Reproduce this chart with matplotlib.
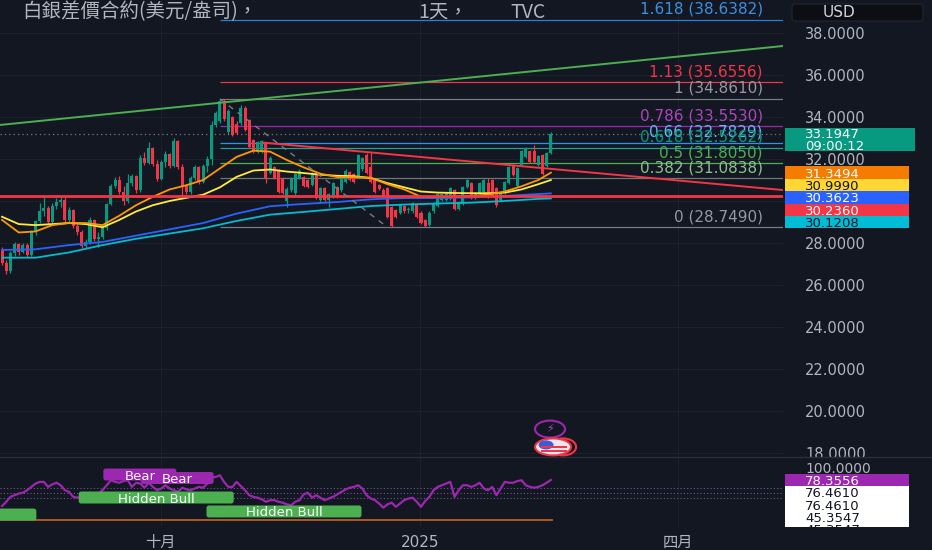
import numpy as np
import matplotlib
matplotlib.use('Agg')
import matplotlib.pyplot as plt
from matplotlib.patches import Rectangle, FancyBboxPatch, Ellipse
from matplotlib.lines import Line2D
from matplotlib.transforms import IdentityTransform, blended_transform_factory

plt.rcParams['font.family'] = ['DejaVu Sans', 'Noto Sans CJK TC']

# ---- daily candles ----
opens = [27.65, 27.05, 26.65, 27.50, 27.95, 27.55, 27.90, 27.45, 28.50, 29.05,
         29.50, 29.65, 29.00, 29.75, 29.95, 30.05, 29.10, 29.55, 28.80, 28.50,
         27.85, 28.05, 29.10, 28.20, 28.30, 28.70, 29.85, 30.70, 31.00, 30.45,
         30.00, 30.85, 31.20, 30.50, 32.05, 31.80, 32.50, 31.75, 31.05, 31.85,
         32.25, 31.65, 32.85, 31.60, 30.70, 30.45, 31.10, 31.60, 30.90, 31.65,
         32.00, 33.60, 33.80, 34.75, 33.30, 34.00, 33.65, 33.70, 34.45, 33.85,
         32.90, 32.35, 32.40, 32.75, 31.35, 31.60, 31.45, 31.10, 30.00, 30.50,
         30.40, 31.10, 31.15, 31.00, 30.75, 31.35, 30.05, 30.60, 30.05, 30.20,
         30.65, 30.50, 30.90, 31.40, 31.30, 31.15, 31.50, 32.20, 31.60, 31.00,
         30.75, 30.50, 30.60, 29.70, 29.55, 29.45, 29.75, 29.55, 29.50, 29.80,
         29.45, 29.10, 28.85, 29.50, 29.75, 30.05, 30.05, 30.10, 30.50, 29.60,
         29.85, 30.65, 30.85, 30.15, 30.40, 30.45, 30.85, 31.00, 30.60, 30.05,
         30.40, 30.85, 31.70, 30.70, 31.70, 32.10, 32.40, 32.40, 31.70, 32.20,
         31.65, 32.30]
highs = [27.80, 27.20, 27.60, 28.05, 28.00, 28.00, 28.00, 28.60, 29.10, 29.90,
         30.20, 29.75, 29.90, 30.15, 30.20, 30.20, 29.70, 29.60, 28.90, 28.60,
         28.20, 29.25, 29.15, 28.50, 28.80, 29.90, 30.80, 31.15, 31.20, 30.70,
         31.30, 31.30, 31.25, 32.20, 32.35, 32.80, 32.55, 31.95, 31.95, 32.40,
         32.30, 33.00, 32.90, 31.75, 30.80, 31.20, 31.70, 31.65, 31.75, 32.15,
         33.80, 34.30, 34.86, 34.85, 34.40, 34.05, 33.80, 34.55, 34.50, 33.90,
         32.95, 32.85, 32.90, 32.80, 32.15, 31.65, 31.50, 31.15, 30.65, 31.15,
         31.35, 31.50, 31.20, 31.05, 31.40, 31.40, 30.65, 30.65, 30.40, 30.90,
         30.70, 31.15, 31.50, 31.45, 31.35, 32.25, 32.10, 32.30, 32.33, 31.05,
         30.80, 30.60, 30.65, 29.75, 29.60, 29.85, 29.80, 29.70, 29.95, 29.85,
         29.50, 29.15, 29.50, 29.95, 30.40, 30.40, 30.45, 30.65, 30.55, 30.00,
         30.70, 31.05, 30.90, 30.45, 30.90, 31.05, 31.10, 31.05, 30.65, 30.45,
         30.95, 31.65, 31.75, 31.60, 32.45, 32.55, 32.45, 32.67, 32.20, 32.25,
         32.35, 33.30]
lows = [26.95, 26.50, 26.55, 27.40, 27.45, 27.50, 27.35, 27.40, 28.40, 28.95,
        29.30, 28.90, 28.95, 29.60, 29.70, 29.00, 29.00, 28.70, 28.40, 27.75,
        27.75, 27.95, 28.10, 27.80, 28.20, 28.60, 29.80, 30.60, 30.35, 29.80,
        29.90, 30.70, 30.40, 30.45, 31.70, 31.75, 31.65, 30.95, 31.00, 31.60,
        31.55, 31.60, 31.50, 30.20, 30.35, 30.35, 31.00, 30.80, 30.85, 31.40,
        31.70, 33.50, 33.70, 33.80, 33.20, 33.10, 33.20, 33.60, 33.35, 32.50,
        32.30, 32.30, 32.30, 30.85, 31.30, 31.05, 30.40, 30.35, 29.70, 30.45,
        30.30, 31.05, 30.65, 30.60, 30.70, 30.10, 29.95, 30.00, 29.70, 30.15,
        30.15, 30.45, 30.85, 30.95, 30.85, 31.10, 31.45, 31.30, 30.85, 30.40,
        30.50, 30.15, 29.20, 28.75, 29.20, 29.40, 29.45, 29.45, 29.45, 29.20,
        28.90, 28.75, 28.80, 29.45, 29.70, 30.00, 30.00, 30.05, 29.55, 29.55,
        29.80, 30.60, 30.10, 30.10, 30.35, 30.40, 30.15, 30.20, 29.70, 30.00,
        30.35, 30.80, 31.20, 30.65, 31.65, 32.05, 31.80, 31.80, 31.65, 31.25,
        31.60, 32.25]
closes = [27.05, 26.65, 27.50, 27.95, 27.55, 27.90, 27.45, 28.50, 29.05, 29.50,
          29.65, 29.00, 29.75, 29.95, 30.05, 29.10, 29.55, 28.80, 28.50, 27.85,
          28.05, 29.10, 28.20, 28.30, 28.70, 29.85, 30.70, 31.00, 30.45, 30.00,
          30.85, 31.20, 30.50, 32.05, 31.80, 32.50, 31.75, 31.05, 31.85, 32.25,
          31.65, 32.85, 31.60, 30.70, 30.45, 31.10, 31.60, 30.90, 31.65, 32.00,
          33.60, 34.20, 34.75, 33.90, 34.30, 33.15, 33.25, 34.45, 33.40, 32.55,
          32.35, 32.80, 32.85, 31.10, 32.05, 31.10, 30.45, 30.40, 30.55, 31.05,
          31.30, 31.45, 30.70, 30.65, 31.35, 30.15, 30.60, 30.05, 30.35, 30.85,
          30.20, 31.10, 31.45, 31.00, 30.90, 32.20, 32.05, 31.35, 30.90, 30.45,
          30.55, 30.20, 29.25, 28.80, 29.25, 29.80, 29.50, 29.60, 29.90, 29.25,
          28.95, 28.80, 29.45, 29.90, 30.35, 30.35, 30.40, 30.60, 29.60, 29.95,
          30.65, 31.00, 30.15, 30.40, 30.85, 31.00, 30.20, 30.25, 29.80, 30.40,
          30.90, 31.60, 31.25, 31.55, 32.40, 32.50, 31.85, 31.85, 32.15, 31.30,
          32.30, 33.1947]
countdown = '09:00:12'

# ---- moving averages (sampled from the chart) ----
ma_fast_idx = list(range(0, 129, 4)) + [131]
ma_orange = [29.10, 28.50, 28.55, 28.85, 28.95, 28.95, 28.85, 29.30, 29.80, 30.20,
             30.55, 30.75, 31.00, 31.55, 32.10, 32.40, 32.35, 31.95, 31.60, 31.30,
             31.14, 31.14, 31.10, 30.80, 30.55, 30.20, 30.19, 30.22, 30.24, 30.30,
             30.45, 30.70, 31.00, 31.3494]
ma_yellow = [29.25, 28.90, 28.85, 28.90, 28.95, 28.90, 28.75, 29.10, 29.50, 29.80,
             30.00, 30.15, 30.30, 30.65, 31.15, 31.45, 31.50, 31.40, 31.33, 31.25,
             31.20, 31.18, 31.10, 30.85, 30.65, 30.45, 30.40, 30.38, 30.37, 30.37,
             30.40, 30.55, 30.80, 30.9990]
ma_slow_idx = list(range(0, 129, 8)) + [131]
ma_blue = [27.67, 27.70, 27.90, 28.05, 28.35, 28.65, 28.95, 29.40, 29.75, 29.86,
           29.95, 30.08, 30.14, 30.14, 30.17, 30.24, 30.33, 30.3623]
ma_cyan = [27.30, 27.30, 27.55, 27.90, 28.20, 28.45, 28.70, 29.05, 29.35, 29.48,
           29.62, 29.76, 29.83, 29.88, 29.92, 30.00, 30.10, 30.1208]

# ---- drawings ----
trend_up = ([-0.5, 186.4], [33.62, 37.38])
trend_down = ([62.3, 186.4], [32.78, 30.52])
support = 30.2360
swing = ([52, 92], [34.861, 28.749])
fib_hi, fib_lo = 34.861, 28.749
fib_ratios = [1.618, 1.13, 1, 0.786, 0.66, 0.618, 0.5, 0.382, 0]
fib_line_colors = ['#2e7bd6', '#f23645', '#787b86', '#9c27b0', '#2196f3',
                   '#2a9d8f', '#4caf50', '#6b7a70', '#787b86']
fib_text_colors = ['#3d8fe0', '#f23645', '#9598a1', '#ab47bc', '#64b5f6',
                   '#089981', '#4caf50', '#8fbf8f', '#9598a1']

# ---- RSI pane ----
rsi = [47, 52, 58, 60, 62, 63, 66, 70, 74, 76, 76, 70, 73, 75, 72, 66, 64, 58, 57, 59,
       60, 63, 60, 62, 66, 72, 78, 76, 75, 77, 78, 70, 75, 74, 69, 75, 70, 66, 68, 72,
       68, 66, 64, 69, 67, 66, 68, 70, 69, 74, 81, 82, 84, 76, 70, 70, 76, 71, 66, 60,
       58, 57, 55, 52, 54, 54, 52, 51, 49, 48, 52, 54, 61, 63, 57, 60, 57, 54, 56, 58,
       61, 64, 67, 69, 70, 72, 68, 60, 56, 54, 50, 45, 49, 51, 46, 50, 54, 56, 57, 52,
       46, 53, 58, 66, 70, 72, 74, 76, 58, 66, 72, 72, 70, 72, 75, 68, 66, 70, 60, 68,
       76, 75, 75, 77, 78, 72, 70, 69, 70, 72, 75, 78.3556]
rsi_bands = [69, 63, 57]
rsi_floor = 30
rsi_tag_vals = [78.3556, 76.4610, 76.4610, 45.3547, 45.3547]
div_labels = [('Bear', 32.9, 84.9, '#9c27b0'), ('Bear', 41.8, 80.7, '#9c27b0'),
              ('Hidden Bull', 36.8, 57.2, '#4caf50'), ('Hidden Bull', 67.3, 40.4, '#4caf50'),
              ('Hidden Bull', -10.3, 36.7, '#4caf50')]

xtick_idx = [37.9, 99.8, 161.3]
xtick_lab = ['十月', '2025', '四月']
price_ticks = list(range(18, 40, 2))

BG = '#131722'
GRID = '#1d212c'
TXT = '#b2b5be'
UP, DOWN = '#089981', '#f23645'
W, H = 932, 550


def frac(x0, y0, x1, y1):
    # image pixel box -> figure fraction rect
    return [x0 / W, 1 - y1 / H, (x1 - x0) / W, (y1 - y0) / H]


def px_box(ax, x, y, w, h, fc, text='', tc='white', fs=9.5):
    # box of w x h pixels centred on a data point
    X, Y = ax.transData.transform((x, y))
    ax.add_patch(FancyBboxPatch((X - w / 2, Y - h / 2), w, h,
                                boxstyle='round,pad=0,rounding_size=2.5',
                                fc=fc, ec='none', transform=IdentityTransform(), zorder=9))
    if text:
        t = ax.text(X, Y, text, transform=IdentityTransform(), color=tc, fontsize=fs,
                    ha='center', va='center_baseline', zorder=10)
        t.set_clip_path(ax.patch)


fig = plt.figure(figsize=(W / 100, H / 100), dpi=100, facecolor=BG)
ax = fig.add_axes(frac(0, 0, 783, 457))
ax_rsi = fig.add_axes(frac(0, 457, 783, 527))
sc = fig.add_axes(frac(783, 0, 932, 457))
sc_rsi = fig.add_axes(frac(783, 457, 932, 527))

for a in (ax, ax_rsi, sc, sc_rsi):
    a.set_facecolor(BG)
    for s in a.spines.values():
        s.set_visible(False)
    a.tick_params(length=0, labelleft=False, labelbottom=False)

ax.set_xlim(-0.48, 186.4)
ax_rsi.set_xlim(-0.48, 186.4)
ax.set_ylim(17.81, 39.57)
sc.set_ylim(17.81, 39.57)
ax_rsi.set_ylim(21.7, 106.0)
sc_rsi.set_ylim(21.7, 106.0)
sc.set_xticks([]); sc.set_yticks([])
sc_rsi.set_xticks([]); sc_rsi.set_yticks([])

# grid
ax.set_yticks(price_ticks)
ax.set_xticks(xtick_idx)
ax.grid(True, color=GRID, lw=0.8)
ax_rsi.set_yticks([])
ax_rsi.set_xticks(xtick_idx)
ax_rsi.set_xticklabels(xtick_lab)
ax_rsi.tick_params(labelbottom=True, colors=TXT, labelsize=11, pad=6)
ax_rsi.grid(True, axis='x', color=GRID, lw=0.8)

# candles
idx = np.arange(len(closes))
o, hi, lo, c = map(np.array, (opens, highs, lows, closes))
col = np.where(c >= o, UP, DOWN)
ax.vlines(idx, lo, hi, colors=col, lw=0.9, zorder=4)
ax.bar(idx, np.maximum(np.abs(c - o), 0.04), bottom=np.minimum(o, c), width=0.72,
       color=col, zorder=5)

# moving averages
ax.plot(ma_slow_idx, ma_cyan, color='#00bcd4', lw=1.3, zorder=6)
ax.plot(ma_slow_idx, ma_blue, color='#2962ff', lw=1.3, zorder=6)
ax.plot(ma_fast_idx, ma_yellow, color='#ffeb3b', lw=1.3, zorder=6)
ax.plot(ma_fast_idx, ma_orange, color='#ff9800', lw=1.3, zorder=6)

# trend lines and support
ax.plot(*trend_up, color='#4caf50', lw=1.4, zorder=6)
ax.plot(*trend_down, color=DOWN, lw=1.4, zorder=6)
ax.axhline(support, color=DOWN, lw=2.0, zorder=6)
ax.plot(*swing, color='#787b86', lw=1, ls=(0, (4, 4)), zorder=6)

# fib levels
for r, lc, tc in zip(fib_ratios, fib_line_colors, fib_text_colors):
    lvl = fib_lo + r * (fib_hi - fib_lo)
    ax.hlines(lvl, swing[0][0], 186.4, color=lc, lw=0.9, zorder=3)
    ax.annotate(f'{r:g} ({lvl:.4f})', (181.6, lvl), xytext=(0, 3),
                textcoords='offset pixels', ha='right', va='bottom',
                color=tc, fontsize=11, zorder=7)

# last price line
ax.axhline(closes[-1], color='#6a7d86', lw=0.9, ls=(0, (1, 2.5)), zorder=6)

# event markers
X, Y = ax.transData.transform((130.8, 19.14))
ax.add_patch(Ellipse((X, Y), 30, 17, fc=BG, ec='#9c27b0', lw=1.5,
                     transform=IdentityTransform(), zorder=9))
ax.text(X, Y, '⚡', transform=IdentityTransform(), color='#ab47bc', fontsize=8,
        ha='center', va='center', zorder=10)
X, Y = ax.transData.transform((132, 18.29))
ax.add_patch(Ellipse((X + 8, Y), 26, 17, fc=BG, ec=DOWN, lw=1.5,
                     transform=IdentityTransform(), zorder=9))
ax.add_patch(Ellipse((X - 2, Y), 36, 17, fc='#e8e8ee', ec=DOWN, lw=1.5,
                     transform=IdentityTransform(), zorder=9))
ax.add_patch(Ellipse((X - 9, Y + 2), 15, 9, fc='#3d5bd9', ec='none',
                     transform=IdentityTransform(), zorder=10))
for dy in (-4, 0):
    ax.add_patch(Rectangle((X - 14, Y + dy - 1), 26, 1.6, fc=DOWN, ec='none',
                           transform=IdentityTransform(), zorder=10))

# RSI pane
ax_rsi.plot(idx, rsi, color='#9c27b0', lw=1.6, zorder=5)
for b in rsi_bands:
    ax_rsi.axhline(b, color='#6f5a8c', lw=0.8, ls=(0, (1, 2)), zorder=2)
ax_rsi.hlines(rsi_floor, -0.5, idx[-1] + 0.5, color='#c8651b', lw=1.2, zorder=3)
for text, xi, yv, fc in div_labels:
    w = 73 if text == 'Bear' else 155
    px_box(ax_rsi, xi, yv, w, 12, fc, text)

# right price scale: tags first, so hidden tick labels can be skipped
tr = blended_transform_factory(sc.transAxes, sc.transData)
last = closes[-1]
sc.add_patch(Rectangle((0.013, last - 0.80), 0.876, 1.095, fc=UP, ec='none',
                       transform=tr, zorder=5))
sc.text(0.148, last + 0.02, f'{last:.4f}', transform=tr, color='white', fontsize=9.5,
        va='center_baseline', zorder=6)
sc.text(0.148, last - 0.54, countdown, transform=tr, color='white', fontsize=9.5,
        va='center_baseline', zorder=6)

ma_tags = [(ma_orange[-1], '#f57c00', 'white'), (ma_yellow[-1], '#fdd835', '#131722'),
           (ma_blue[-1], '#2962ff', 'white'), (support, DOWN, 'white'),
           (ma_cyan[-1], '#00bcd4', '#131722')]
h = 0.59
cy = None
covered = []
for v, fc, tc in ma_tags:
    cy = v if cy is None else min(v, cy - h)
    covered.append((cy - h / 2, cy + h / 2))
    sc.add_patch(Rectangle((0.013, cy - h / 2), 0.83, h, fc=fc, ec='none',
                           transform=tr, zorder=5))
    sc.text(0.148, cy, f'{v:.4f}', transform=tr, color=tc, fontsize=9.5,
            va='center_baseline', zorder=6)

for v in price_ticks:
    if any(a0 <= v <= a1 for a0, a1 in covered):
        continue
    sc.text(0.148, v, f'{v:.4f}', color=TXT, fontsize=10.5, va='center_baseline')
sc_rsi.annotate('100.0000', (0.148, 100), xycoords=('axes fraction', 'data'),
                xytext=(0, -6), textcoords='offset pixels', color=TXT, fontsize=10,
                va='center_baseline')

tr2 = blended_transform_factory(sc_rsi.transAxes, sc_rsi.transData)
h2 = 14.9
cy = None
for k, v in enumerate(rsi_tag_vals):
    fc, tc = ('#9c27b0', 'white') if k == 0 else ('white', '#131722')
    cy = v if cy is None else min(v, cy - h2)
    sc_rsi.add_patch(Rectangle((0.013, cy - h2 / 2), 0.83, h2, fc=fc, ec='none',
                               transform=tr2, zorder=5))
    t = sc_rsi.text(0.148, cy, f'{v:.4f}', transform=tr2, color=tc, fontsize=9.5,
                    va='center_baseline', zorder=6)
    t.set_clip_path(sc_rsi.patch)

# pane separator
fig.add_artist(Line2D([0, 1], [1 - 457 / H] * 2, color='#2a2e39', lw=1))

# USD box and title
fig.add_artist(FancyBboxPatch((792, H - 21), 131, 17, boxstyle='round,pad=0,rounding_size=3',
                              fc='#0c0e14', ec='#22262f', lw=0.8, transform=IdentityTransform()))
fig.text(839 / W, 1 - 12.5 / H, 'USD', color='#d1d4dc', fontsize=11, ha='center', va='center')
cjk = ['Noto Sans CJK TC', 'DejaVu Sans']
fig.text(22 / W, 1 - 12 / H, '白銀差價合約(美元/盎司)，', color=TXT, fontsize=14,
         va='center', family=cjk)
fig.text(418 / W, 1 - 12 / H, '1天，', color=TXT, fontsize=14, va='center', family=cjk)
fig.text(510 / W, 1 - 12 / H, 'TVC', color=TXT, fontsize=14, va='center', family=cjk)

fig.savefig('out.png', dpi=100, facecolor=BG)
